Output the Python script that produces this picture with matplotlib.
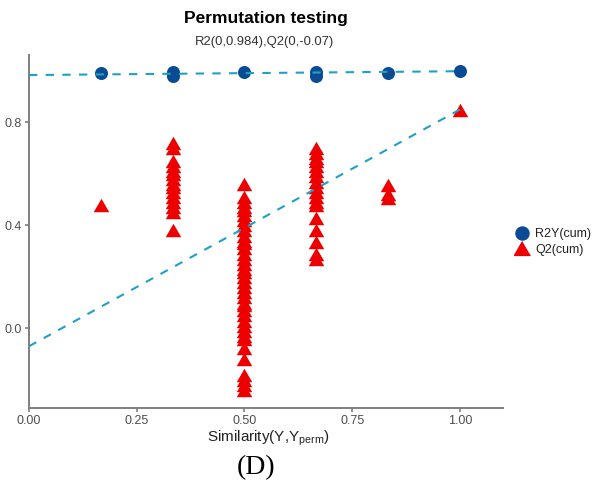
import matplotlib
matplotlib.use("Agg")
import matplotlib.pyplot as plt
from matplotlib.lines import Line2D

plt.rcParams['font.family'] = ['Liberation Sans', 'DejaVu Sans']
plt.rcParams['mathtext.default'] = 'regular'

# ---- data ----
sim_levels = [1/6, 2/6, 3/6, 4/6, 5/6, 1.0]

r2y_1 = [0.993]
r2y_2 = [0.997, 0.979]
r2y_3 = [0.996]
r2y_4 = [0.997, 0.979]
r2y_5 = [0.991]
r2y_6 = [0.999]

q2_1 = [0.48]
q2_2 = [0.72, 0.70, 0.65, 0.63, 0.61, 0.60, 0.58, 0.56, 0.55, 0.53, 0.51,
        0.49, 0.47, 0.45, 0.38]
q2_3 = [0.56, 0.51, 0.49, 0.47, 0.46, 0.44, 0.42, 0.40, 0.38, 0.36, 0.34,
        0.33, 0.31, 0.29, 0.27, 0.25, 0.23, 0.22, 0.20, 0.18, 0.16, 0.14,
        0.12, 0.10, 0.09, 0.07, 0.05, 0.03, 0.01, -0.01, -0.03, -0.04,
        -0.075, -0.12, -0.18, -0.20, -0.22, -0.24]
q2_4 = [0.70, 0.68, 0.66, 0.65, 0.63, 0.61, 0.59, 0.57, 0.55, 0.53, 0.51,
        0.49, 0.48, 0.43, 0.38, 0.335, 0.29, 0.27]
q2_5 = [0.555, 0.52, 0.505]
q2_6 = [0.85]

r2_intercept = 0.984
q2_intercept = -0.07

x_ticks = [0.0, 0.25, 0.50, 0.75, 1.00]
x_tick_labels = ['0.00', '0.25', '0.50', '0.75', '1.00']
y_ticks = [0.0, 0.4, 0.8]
y_tick_labels = ['0.0', '0.4', '0.8']

title = 'Permutation testing'
subtitle = 'R2(0,0.984),Q2(0,-0.07)'
xlabel = 'Similarity(Y,Y$_{perm}$)'
caption = '(D)'

# ---- build flat series ----
r2y_groups = [r2y_1, r2y_2, r2y_3, r2y_4, r2y_5, r2y_6]
q2_groups = [q2_1, q2_2, q2_3, q2_4, q2_5, q2_6]
r2y_x, r2y_y, q2_x, q2_y = [], [], [], []
for s, g in zip(sim_levels, r2y_groups):
    r2y_x += [s] * len(g); r2y_y += g
for s, g in zip(sim_levels, q2_groups):
    q2_x += [s] * len(g); q2_y += g

blue = '#0B4B93'
red = '#EE0000'
line_c = '#1FA0C6'
tri = [(0, 0.866), (-1, -0.866), (1, -0.866)]

W, H = 598, 487
fig = plt.figure(figsize=(W / 100, H / 100), dpi=100)
ax = fig.add_axes([29 / W, 1 - 408 / H, 474 / W, 353 / H])

ax.scatter(q2_x, q2_y, marker=tri, s=125, color=red, linewidths=0, zorder=2)
ax.scatter(r2y_x, r2y_y, marker='o', s=88, color=blue, linewidths=0, zorder=3)

ax.plot([0, 1], [r2_intercept, r2y_6[0]], color=line_c, lw=1.5,
        linestyle=(0, (4, 4)), zorder=4)
ax.plot([0, 1], [q2_intercept, q2_6[0]], color=line_c, lw=1.5,
        linestyle=(0, (4, 4)), zorder=4)

ax.set_xlim(0, 1.1)
ax.set_ylim(-0.31, 1.062)
ax.set_xticks(x_ticks)
ax.set_xticklabels(x_tick_labels)
ax.set_yticks(y_ticks)
ax.set_yticklabels(y_tick_labels)
for sp in ['top', 'right']:
    ax.spines[sp].set_visible(False)
for sp in ['left', 'bottom']:
    ax.spines[sp].set_color('#7F7F7F')
    ax.spines[sp].set_linewidth(1.4)
ax.tick_params(axis='both', colors='#7F7F7F', length=3, width=1.2,
               labelsize=9, labelcolor='#4D4D4D', pad=2)

fig.text(266 / W, 1 - 19 / H, title, ha='center', va='center',
         fontsize=12.5, fontweight='bold', color='black')
fig.text(265 / W, 1 - 41.5 / H, subtitle, ha='center', va='center',
         fontsize=9.4, color='#333333')
fig.text(268 / W, 1 - 438 / H, xlabel, ha='center', va='center',
         fontsize=11, color='#222222')
fig.text(256 / W, 1 - 468 / H, caption, ha='center', va='center',
         fontsize=20, family='Liberation Serif', color='black')

handles = [Line2D([], [], marker='o', color=blue, linestyle='none', markersize=9.4),
           Line2D([], [], marker=tri, color=red, linestyle='none', markersize=11.5)]
leg = fig.legend(handles, ['R2Y(cum)', 'Q2(cum)'], loc='center left',
                 bbox_to_anchor=(516 / W, 1 - 242 / H), frameon=False,
                 fontsize=9, handlelength=1.0, handletextpad=0.55,
                 labelspacing=0.25, borderaxespad=0, borderpad=0)
for t in leg.get_texts():
    t.set_color('#222222')

fig.savefig('out.png', dpi=100)
